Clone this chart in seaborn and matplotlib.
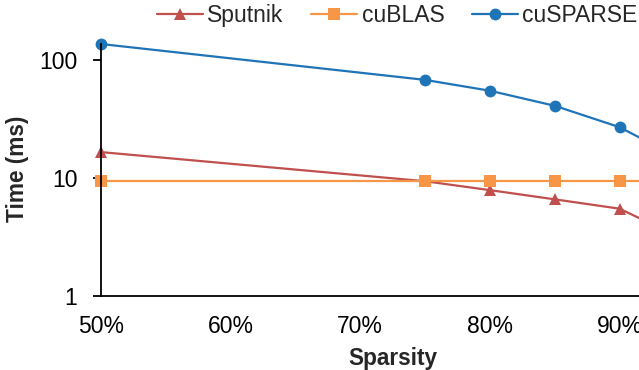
import matplotlib
matplotlib.use("Agg")
import matplotlib.pyplot as plt
import seaborn as sns
import pandas as pd
from matplotlib.ticker import FixedLocator, FixedFormatter, NullLocator

sparsity = [50, 75, 80, 85, 90, 95]
sputnik = [16.6, 9.4, 7.9, 6.6, 5.5, 3.0]
cublas = [9.4, 9.4, 9.4, 9.4, 9.4, 9.4]
cusparse = [137, 68, 55, 41, 27, 14]
series_names = ["Sputnik", "cuBLAS", "cuSPARSE"]
xticks = [50, 60, 70, 80, 90, 100]
xticklabels = ["50%", "60%", "70%", "80%", "90%", "100%"]
yticks = [1, 10, 100]
yticklabels = ["1", "10", "100"]

sns.set_theme(style="white")
plt.rcParams["font.family"] = ["Liberation Sans", "DejaVu Sans"]

W, H = 639, 370
fig = plt.figure(figsize=(W / 100, H / 100), dpi=100)
ax = fig.add_axes([101 / W, (H - 296) / H, (W - 101) / W, (296 - 44) / H])

colors = ["#C0504D", "#F79646", "#1F74B8"]
markers = ["^", "s", "o"]
msizes = [8, 8.5, 8.5]
for name, vals, c, m, ms in zip(series_names, [sputnik, cublas, cusparse], colors, markers, msizes):
    df = pd.DataFrame({"x": sparsity, "y": vals})
    sns.lineplot(data=df, x="x", y="y", ax=ax, color=c, marker=m, markersize=ms,
                 markeredgewidth=0, linewidth=1.6, label=name, clip_on=False)

ax.set_yscale("log")
ax.set_xlim(50, 91.5)
ax.set_ylim(1, 137)
ax.xaxis.set_major_locator(FixedLocator(xticks))
ax.xaxis.set_major_formatter(FixedFormatter(xticklabels))
ax.yaxis.set_major_locator(FixedLocator(yticks))
ax.yaxis.set_major_formatter(FixedFormatter(yticklabels))
ax.yaxis.set_minor_locator(NullLocator())
ax.tick_params(axis="x", length=0, pad=13.5, labelsize=16.5, colors="black")
ax.tick_params(axis="y", length=6, width=1.3, direction="out", left=True, pad=11,
               labelsize=16.5, colors="black")
for s in ["top", "right"]:
    ax.spines[s].set_visible(False)
for s in ["left", "bottom"]:
    ax.spines[s].set_color("black")
    ax.spines[s].set_linewidth(1.3)
ax.grid(False)
ax.set_xlabel("")
ax.set_ylabel("")
fig.text(18 / W, 1 - 169 / H, "Time (ms)", rotation=90, ha="center", va="center",
         fontsize=16.3, fontweight="bold")
fig.text(393 / W, 1 - 358 / H, "Sparsity", ha="center", va="center",
         fontsize=16.3, fontweight="bold")

handles, labels = ax.get_legend_handles_labels()
ax.get_legend().remove()
fig.legend(handles, labels, loc="upper left", bbox_to_anchor=(157 / W, 1 - 4 / H),
           ncol=3, frameon=False, fontsize=16.5, handlelength=2.0, handletextpad=0.2,
           columnspacing=1.2, borderpad=0, borderaxespad=0)

fig.savefig("out.png", dpi=100)
